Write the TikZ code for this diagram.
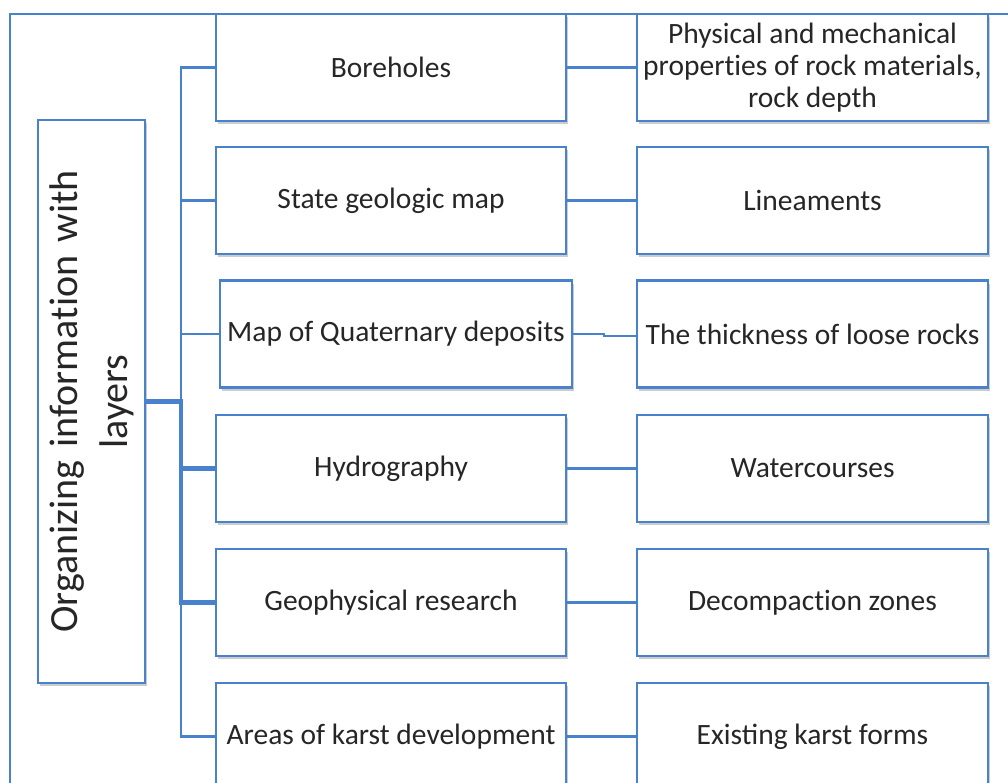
\documentclass[tikz,border=0pt]{standalone}
\usepackage{fontspec}
\setmainfont{Carlito}
\usetikzlibrary{shadows}
\definecolor{lblue}{RGB}{72,130,205}
\newcommand{\nl}{\kern0pt }
\begin{document}
\begin{tikzpicture}[x=1pt,y=-1pt,
  box/.style={draw=lblue, line width=2.5pt, fill=white, minimum width=350pt, minimum height=107pt,
    align=center, inner sep=1pt, font=\fontsize{29.5}{32}\selectfont, text=black!85,
    drop shadow={shadow xshift=2pt, shadow yshift=-3pt, opacity=0.2, fill=black}},
  conn/.style={draw=lblue, line width=2.5pt},
  thick conn/.style={draw=lblue, line width=4.5pt}]
\useasboundingbox (0,0) rectangle (1008,782);
\clip (0,0) rectangle (1008,782);
% outer frame
\draw[conn] (10,800) -- (10,14) -- (1020,14);
% left box
\node[box, rotate=90, minimum width=563pt, minimum height=107pt, text width=550pt,
  font=\fontsize{40}{50}\selectfont] (L) at (91.5,401.5) {Organizing informat\nl ion with\\layers};
% middle boxes
\node[box] (b1) at (391,67.5) {Boreholes};
\node[box] (b2) at (391,200.5) {State geologic map};
\node[box, minimum width=352pt] (b3) at (396,334) {Map of Quaternary deposits};
\node[box] (b4) at (391,468.5) {Hydrography};
\node[box] (b5) at (391,602.5) {Geophysical research};
\node[box] (b6) at (391,736.5) {Areas of karst development};
% right boxes
\node[box, minimum width=351pt] (r1) at (812.5,67.5) {Physical and mechanical\\propert\nl ies of rock materials,\\rock depth};
\node[box, minimum width=351pt] (r2) at (812.5,200.5) {Lineaments};
\node[box, minimum width=351pt] (r3) at (812.5,334) {The thickness of loose rocks};
\node[box, minimum width=351pt] (r4) at (812.5,468.5) {Watercourses};
\node[box, minimum width=351pt] (r5) at (812.5,602.5) {Decompact\nl ion zones};
\node[box, minimum width=351pt] (r6) at (812.5,736.5) {Existing karst forms};
% trunk
\coordinate (t1) at (181,0 |- b1.west);
\coordinate (t2) at (181,0 |- b2.west);
\coordinate (t3) at (181,0 |- b3.west);
\coordinate (t4) at (181,0 |- b4.west);
\coordinate (t5) at (181,0 |- b5.west);
\coordinate (t6) at (181,0 |- b6.west);
\coordinate (tl) at (181,0 |- L.south);
\draw[conn] (b1.west) -- (t1) -- (t6) -- (b6.west);
\draw[conn] (t2) -- (b2.west);
\draw[conn] (t3) -- (b3.west);
\draw[thick conn] (L.south) -- (tl) -- (t5) -- (b5.west);
\draw[thick conn] (t4) -- (b4.west);
% middle to right
\draw[conn] (b1.east) -- (r1.west);
\draw[conn] (b2.east) -- (r2.west);
\coordinate (s3) at (604,0 |- b3.east);
\draw[conn] (b3.east) -- (s3) -- ([yshift=-2pt]s3) -- ([yshift=-2pt]r3.west);
\draw[conn] (b4.east) -- (r4.west);
\draw[conn] (b5.east) -- (r5.west);
\draw[conn] (b6.east) -- (r6.west);
\end{tikzpicture}
\end{document}
